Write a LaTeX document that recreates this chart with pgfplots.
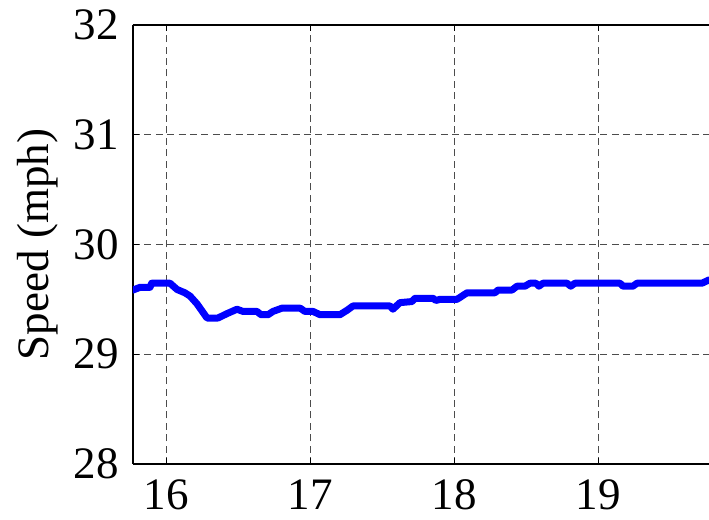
\documentclass[border=0pt]{standalone}
\usepackage{fontspec}
\setmainfont{Liberation Serif}
\usepackage{pgfplots}
\pgfplotsset{compat=1.18}
\begin{document}
\begin{tikzpicture}
\begin{axis}[
  scale only axis,
  width=288pt, height=219.5pt,
  xmin=15.77, xmax=19.77,
  ymin=28, ymax=32,
  xtick={16,17,18,19},
  ytick={28,29,30,31,32},
  axis x line=box,
  axis y line*=left,
  axis line style={black, line width=0.75pt},
  tick align=inside,
  major tick length=3pt,
  tick style={black, line width=0.5pt},
  grid=major,
  major grid style={dash pattern=on 3.5pt off 2.2pt, line width=0.55pt, black!70},
  /pgf/number format/assume math mode=true,
  tick label style={font=\fontsize{22.5}{27}\selectfont},
  xticklabel style={yshift=-6.5pt, inner sep=1pt},
  yticklabel style={xshift=-3.5pt},
  ylabel={Speed (mph)},
  ylabel style={font=\fontsize{22.5}{27}\selectfont, at={(axis description cs:-0.165,0.5)}, anchor=center, rotate=0},
  clip=true,
]
\addplot[blue, line width=3.5pt, line join=round, line cap=round] coordinates {
(15.77,29.585) (15.82,29.61) (15.888,29.61) (15.90,29.647) (16.027,29.647)
(16.076,29.59) (16.13,29.56) (16.166,29.53) (16.214,29.46) (16.284,29.33)
(16.36,29.33) (16.423,29.37) (16.492,29.41) (16.534,29.39) (16.631,29.39)
(16.659,29.36) (16.708,29.36) (16.742,29.39) (16.805,29.42) (16.93,29.42)
(16.964,29.39) (17.02,29.39) (17.069,29.36) (17.207,29.36) (17.256,29.40)
(17.298,29.44) (17.555,29.44) (17.575,29.41) (17.624,29.47) (17.707,29.48)
(17.728,29.51) (17.853,29.51) (17.874,29.49) (17.902,29.50) (18.02,29.50)
(18.055,29.53) (18.09,29.56) (18.284,29.56) (18.305,29.585) (18.402,29.585)
(18.437,29.62) (18.492,29.62) (18.527,29.647) (18.568,29.647) (18.589,29.62)
(18.617,29.647) (18.784,29.647) (18.81,29.62) (18.839,29.647) (19.152,29.647)
(19.173,29.62) (19.242,29.62) (19.27,29.647) (19.721,29.647) (19.77,29.677)
};
\coordinate (bl) at (rel axis cs:-0.2309,-0.1276);
\coordinate (tr) at (rel axis cs:1.0,1.0569);
\end{axis}
\pgfresetboundingbox
\path[use as bounding box] (bl) rectangle (tr);
\end{tikzpicture}
\end{document}
